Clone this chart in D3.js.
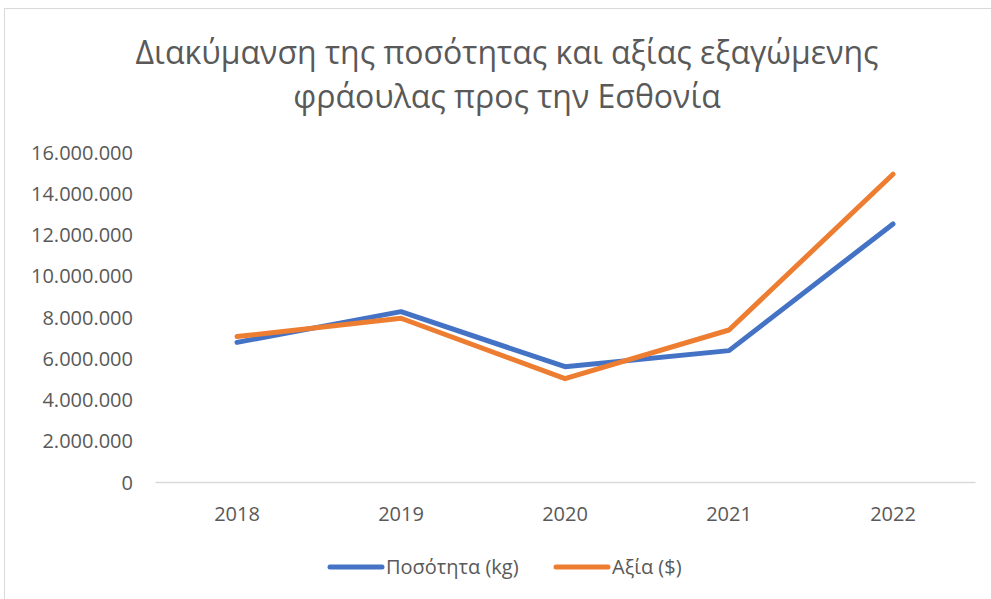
<!DOCTYPE html>
<html lang="el">
<head>
<meta charset="UTF-8">
<title>Διακύμανση ποσότητας και αξίας</title>
<style>
  body { margin: 0; background: #fff; }
  text { font-family: "Open Sans", "Noto Sans", sans-serif; fill: #595959; }
</style>
</head>
<body>
<div id="chart"></div>
<script src="https://cdn.jsdelivr.net/npm/d3@7"></script>
<script>
// data
var years = ['2018', '2019', '2020', '2021', '2022'];
var quantity = [6770000, 8260000, 5590000, 6370000, 12510000];
var value = [7050000, 7940000, 5010000, 7370000, 14920000];
var yTicks = [0, 2000000, 4000000, 6000000, 8000000, 10000000, 12000000, 14000000, 16000000];
var seriesNames = ['Ποσότητα (kg)', 'Αξία ($)'];
var seriesColors = ['#4472C4', '#ED7D31'];
var titleLines = ['Διακύμανση της ποσότητας και αξίας εξαγώμενης', 'φράουλας προς την Εσθονία'];

var width = 991, height = 599;
var plot = { left: 155, right: 975, top: 152, bottom: 482 };

var svg = d3.select('#chart').append('svg')
  .attr('width', width)
  .attr('height', height);

// outer frame
svg.append('rect')
  .attr('x', 4.5).attr('y', 8.5)
  .attr('width', width).attr('height', height)
  .attr('fill', 'none')
  .attr('stroke', '#d9d9d9');

// title
svg.append('g').selectAll('text')
  .data(titleLines)
  .enter().append('text')
  .attr('x', 507)
  .attr('y', (d, i) => 64 + i * 44)
  .attr('text-anchor', 'middle')
  .style('font-size', '32px')
  .text(d => d);

var x = d3.scaleBand().domain(years).range([plot.left, plot.right]);
var y = d3.scaleLinear().domain([0, 16000000]).range([plot.bottom, plot.top]);

var fmt = d => d3.format(',')(d).replace(/,/g, '.');

// y axis labels
var yAxis = svg.append('g')
  .attr('transform', 'translate(' + (plot.left - 22) + ',0)')
  .call(d3.axisLeft(y).tickValues(yTicks).tickFormat(fmt).tickSize(0).tickPadding(0));
yAxis.select('.domain').remove();
yAxis.selectAll('text').style('font-size', '20px').attr('dy', '0.35em').attr('fill', null);

// x axis
var xAxis = svg.append('g')
  .attr('transform', 'translate(0,' + plot.bottom + ')')
  .call(d3.axisBottom(x).tickSize(0).tickPadding(0));
xAxis.select('.domain').attr('stroke', '#d9d9d9').attr('stroke-width', 1.5);
xAxis.selectAll('text').style('font-size', '20px').attr('dy', null).attr('y', 39).attr('fill', null);

// lines
var line = d3.line()
  .x((d, i) => x(years[i]) + x.bandwidth() / 2)
  .y(d => y(d));

[quantity, value].forEach((s, k) => {
  svg.append('path')
    .datum(s)
    .attr('fill', 'none')
    .attr('stroke', seriesColors[k])
    .attr('stroke-width', 5)
    .attr('stroke-linecap', 'round')
    .attr('stroke-linejoin', 'round')
    .attr('d', line);
});

// legend
var legendX = [330, 556];
var legend = svg.append('g').selectAll('g')
  .data(seriesNames)
  .enter().append('g')
  .attr('transform', (d, i) => 'translate(' + legendX[i] + ',567)');
legend.append('line')
  .attr('x1', 0).attr('x2', 52)
  .attr('stroke', (d, i) => seriesColors[i])
  .attr('stroke-width', 5)
  .attr('stroke-linecap', 'round');
legend.append('text')
  .attr('x', 56)
  .attr('dy', '0.35em')
  .style('font-size', '20px')
  .text(d => d);
</script>
</body>
</html>
